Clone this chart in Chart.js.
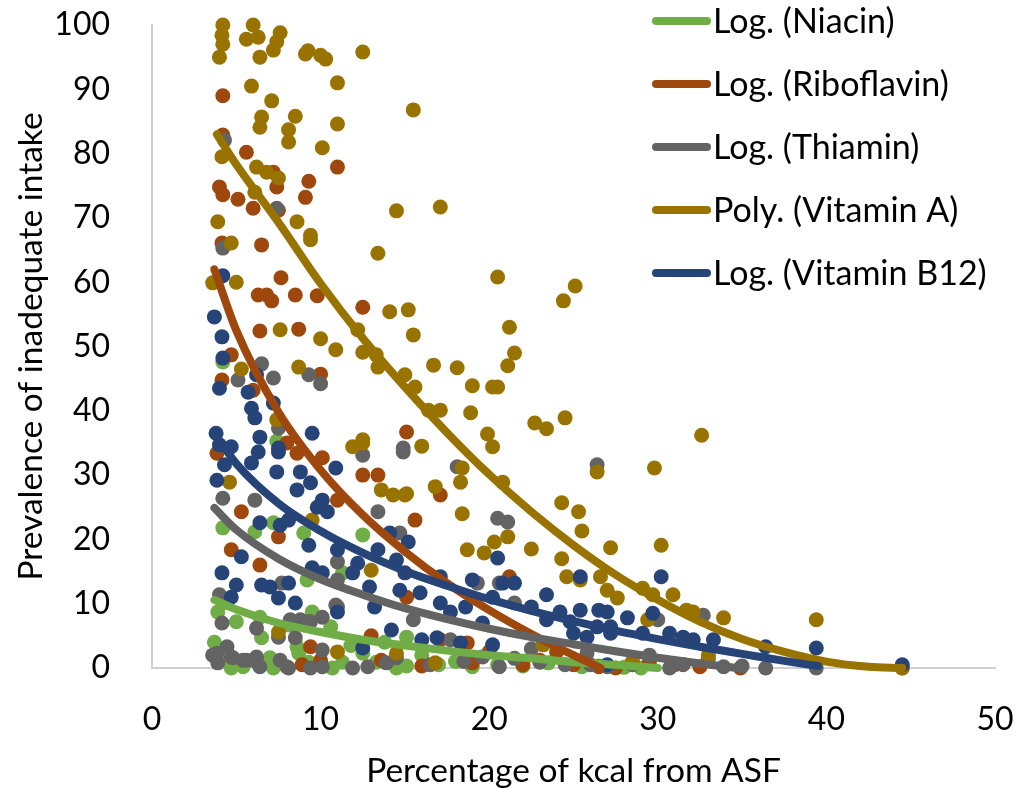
<!DOCTYPE html>
<html>
<head>
<meta charset="utf-8">
<script src="https://cdn.jsdelivr.net/npm/chart.js@4"></script>
<style>
  body { margin: 0; background: #fff; }
  #wrap { width: 1020px; height: 788px; }
</style>
</head>
<body>
<div id="wrap"><canvas id="chart"></canvas></div>
<script>
// scatter points: [x, y]
const niacinPts = [[4.2,47.6],[7.4,35.3],[4.2,21.8],[6.1,21.2],[7.2,22.6],[12.5,20.7],[9.0,21.0],[3.9,8.7],[5.0,7.2],[6.5,4.7],[8.1,6.7],[9.5,8.7],[10.6,6.4],[3.7,4.0],[4.6,1.2],[5.4,0.2],[7.0,1.6],[8.7,2.3],[9.3,0.9],[10.7,0],[11.3,0.9],[12.5,2.3],[13.3,0.9],[14.5,0],[4.2,10.1],[9.2,13.7],[11.3,14.8],[6.4,7.9],[4.7,0],[7.2,0],[8.6,3.3],[15.1,4.8],[15.1,0.3],[17.0,0.5],[19.0,0.2],[22.0,0.3],[25.5,0.2],[28.0,0.1],[16.0,2.0],[18.0,1.0],[20.5,0.5],[23.5,0.8],[26.5,0.3],[29.0,0],[13.8,4.0],[11.8,3.5]];
const riboflavinPts = [[4.2,89.0],[5.6,80.2],[4.2,82.9],[11.0,77.9],[9.3,75.7],[9.1,73.2],[4.0,74.8],[4.2,73.6],[5.1,72.9],[6.0,71.5],[7.4,74.8],[7.2,77.1],[7.5,71.2],[4.15,66.1],[6.5,65.8],[7.65,60.7],[6.3,58.0],[6.8,58.0],[7.1,57.1],[8.5,58.0],[9.8,57.9],[12.5,56.1],[6.4,52.4],[8.7,52.7],[4.7,48.7],[4.15,44.8],[10.0,45.7],[15.1,36.7],[6.0,43.2],[3.85,33.4],[8.0,35.0],[8.6,33.4],[10.1,32.7],[12.5,30.0],[13.4,30.0],[11.0,26.1],[5.3,24.3],[7.5,20.4],[4.7,18.4],[6.4,16.0],[9.4,3.3],[10.0,1.2],[13.6,1.2],[17.1,26.9],[15.6,23.0],[15.1,11.0],[21.2,14.2],[18.7,3.9],[34.9,0],[8.9,0.5],[16.0,0.3],[22.0,0.5],[26.5,0.2],[31.0,0.5],[17.1,4.4],[24.0,2.5],[19.0,0.8],[20.0,2.5],[23.0,1.2],[25.0,0.5],[27.5,0],[29.5,0.8],[32.5,0.2],[13.0,5.0]];
const thiaminPts = [[4.3,82.1],[7.4,71.5],[4.2,65.3],[6.5,47.3],[5.1,44.8],[7.2,45.1],[9.3,45.6],[10.0,44.2],[7.5,37.3],[14.9,34.2],[4.2,26.4],[6.1,26.1],[13.4,24.3],[14.9,33.6],[12.5,33.1],[11.0,16.5],[4.0,11.4],[4.15,7.0],[6.2,6.2],[8.2,7.5],[8.8,7.5],[9.3,7.2],[10.1,7.9],[10.9,9.8],[7.7,13.2],[3.85,2.3],[3.9,0.8],[4.45,3.3],[4.7,1.7],[5.6,1.2],[6.2,1.7],[7.6,1.2],[8.1,0],[9.4,0],[10.1,2.8],[11.9,0],[12.8,0.2],[13.9,0.8],[14.5,1.6],[11.0,13.7],[18.1,31.3],[26.4,31.6],[20.5,23.3],[21.1,22.7],[14.7,21.0],[19.3,13.2],[20.6,13.2],[21.5,10.1],[15.5,7.5],[17.7,4.4],[19.6,1.7],[20.6,0.2],[23.0,0.9],[25.8,2.3],[27.0,0.2],[32.7,8.2],[30.0,7.5],[36.4,0],[39.4,0],[33.9,0.2],[30.7,0],[44.5,0],[3.6,2.0],[4.8,1.6],[5.4,1.2],[6.0,1.2],[6.4,0.2],[8.0,0.2],[10.1,0.2],[8.4,7.0],[7.5,4.8],[8.5,4.7],[9.4,7.2],[11.0,9.5],[16.5,0.5],[18.5,1.0],[21.5,1.5],[22.5,3.0],[24.5,0.5],[26.0,0.5],[28.5,0.5],[29.5,2.0],[31.5,0.5],[33.0,1.5],[35.0,0.3]];
const vitaminAPts = [[4.2,100],[4.15,98.4],[4.2,97],[4.0,95],[6.0,100],[5.6,97.8],[6.3,98.1],[7.6,98.8],[7.4,97.4],[7.2,96.1],[6.4,95],[9.1,95.5],[9.25,96],[10.0,95.3],[10.3,94.7],[12.5,95.8],[5.9,90.5],[7.1,88.2],[11.0,91.0],[6.5,85.7],[6.4,84.1],[8.5,85.8],[8.1,83.7],[8.1,81.8],[11.0,84.6],[10.1,80.9],[15.5,86.8],[4.15,79.5],[6.2,77.9],[6.8,77.1],[7.5,76.2],[6.1,74.0],[3.9,69.4],[8.6,69.4],[14.5,71.1],[17.1,71.7],[9.4,67.3],[4.7,66.1],[9.4,66.6],[13.4,64.5],[3.6,59.9],[5.0,60.0],[14.1,55.4],[15.2,55.7],[7.6,52.6],[10.0,51.2],[10.9,49.5],[12.2,52.6],[12.5,49.1],[13.3,48.7],[13.4,46.8],[15.5,51.8],[15.0,45.6],[5.3,46.5],[8.7,46.8],[7.4,38.6],[12.5,35.5],[11.9,34.4],[20.5,60.8],[25.1,59.4],[24.4,57.1],[21.2,53.0],[21.5,49.0],[21.1,47.0],[16.7,47.1],[18.1,46.7],[19.0,43.9],[20.2,43.7],[20.5,43.7],[15.6,43.7],[16.4,40.1],[17.1,40.1],[18.9,39.7],[22.7,38.1],[23.4,37.2],[24.5,38.9],[19.9,36.4],[20.2,34.4],[16.0,34.5],[26.4,30.5],[18.4,31.1],[18.3,28.9],[20.8,28.9],[15.1,27.1],[16.8,28.2],[18.4,24.0],[24.3,25.7],[25.3,24.3],[25.5,21.3],[27.2,18.7],[18.7,18.4],[19.7,17.9],[20.3,19.6],[21.1,20.4],[22.5,18.5],[24.3,17.0],[24.6,14.2],[25.4,13.7],[26.6,14.2],[27.0,12.1],[32.6,36.2],[29.8,31.1],[30.2,19.1],[27.6,10.9],[29.1,12.4],[29.7,11.4],[30.9,11.4],[31.7,9.0],[32.1,8.7],[33.9,7.8],[29.4,7.5],[39.4,7.5],[4.6,28.9],[9.5,23.0],[7.5,5.6],[11.0,2.5],[12.5,35.0],[13.6,27.7],[14.3,26.9],[15.0,26.9],[13.0,15.2],[14.5,2.3],[44.5,0],[16.8,0.8],[23.2,3.6],[28.5,1.0],[33.0,2.0]];
const vitaminB12Pts = [[4.2,61.0],[3.7,54.6],[4.15,51.5],[4.2,48.2],[4.0,43.5],[5.7,42.9],[5.9,40.4],[6.1,38.9],[7.2,41.2],[6.2,45.6],[9.5,36.5],[6.4,35.9],[3.8,36.5],[4.7,34.4],[7.5,34.2],[4.0,34.7],[6.3,33.6],[7.5,33.6],[4.3,31.6],[5.9,31.9],[7.4,30.5],[8.8,30.5],[10.9,31.1],[3.85,29.2],[8.6,27.7],[9.4,28.8],[10.1,26.1],[10.4,24.3],[9.8,25.0],[6.4,22.6],[7.6,22.2],[8.1,23.0],[9.3,19.1],[5.3,17.3],[4.15,14.8],[5.0,12.9],[4.7,11.0],[6.5,12.9],[7.0,12.6],[7.5,10.9],[8.1,13.2],[8.5,10.1],[11.0,18.4],[11.9,14.8],[11.0,8.7],[9.5,15.6],[10.1,14.8],[13.4,18.4],[12.2,16.3],[14.1,21.0],[14.5,16.8],[12.9,12.6],[14.2,5.9],[12.5,3.1],[13.2,9.5],[15.2,19.6],[20.5,17.1],[19.0,13.7],[17.1,14.2],[20.8,13.2],[21.5,13.2],[23.4,11.4],[25.4,14.2],[15.9,11.7],[17.1,10.1],[17.7,8.7],[18.6,9.5],[20.2,11.0],[22.5,9.5],[24.2,8.7],[25.4,9.0],[26.5,9.0],[27.0,8.7],[23.4,7.5],[24.8,7.2],[26.4,6.4],[27.2,5.4],[25.0,5.4],[25.8,4.8],[16.0,4.4],[16.9,4.7],[18.3,3.9],[20.2,3.6],[19.6,7.0],[27.0,0.5],[15.0,14.8],[14.7,12.1],[30.2,14.2],[39.4,3.1],[28.2,7.8],[29.7,8.5],[29.1,5.4],[30.7,5.4],[31.5,4.8],[32.1,4.4],[33.3,4.4],[36.4,3.3],[27.2,6.4],[44.5,0.5]];

// trendlines
const niacinTrendX = [3.7,5,7.5,10,12.5,15,17.5,20,22.5,25,27.5,30];
const niacinTrendY = [10.6,9.1,7.0,5.6,4.4,3.5,2.7,2.0,1.5,0.9,0.5,0];
const riboflavinTrendX = [3.7,5,7.5,10,12.5,15,17.5,20,22.5,25,26.6];
const riboflavinTrendY = [62,52.5,39.8,30.8,23.8,18.1,13.2,9.0,5.3,2.0,0];
const thiaminTrendX = [3.7,5,7.5,10,12.5,15,17.5,20,22.5,25,27.5,30,32.5,34.7];
const thiaminTrendY = [24.9,21.5,17.0,13.8,11.4,9.3,7.6,6.1,4.8,3.7,2.6,1.6,0.7,0];
const vitaminATrendX = [3.85,5,7.5,10,12.5,15,17.5,20,22.5,25,27.5,30,32.5,35,37.5,40,42.5,44.5];
const vitaminATrendY = [83,78.3,69.3,59.8,51.3,43.7,36.6,30.1,24.3,19.1,14.5,10.6,7.2,4.5,2.5,1.0,0.2,0];
const vitaminB12TrendX = [3.7,5,7.5,10,12.5,15,17.5,20,22.5,25,27.5,30,32.5,35,37.5,39.5];
const vitaminB12TrendY = [36.5,31.8,25.6,21.3,17.9,15.1,12.8,10.7,8.9,7.3,5.8,4.5,3.3,2.2,1.1,0.3];

const legendLabels = ['Log. (Niacin)', 'Log. (Riboflavin)', 'Log. (Thiamin)', 'Poly. (Vitamin A)', 'Log. (Vitamin B12)'];
const colors = ['#70AD47', '#9E480E', '#636363', '#997300', '#264478'];

const FONT = 'Lato';

function toXY(pts) { return pts.map(p => ({ x: p[0], y: p[1] })); }
function zipXY(xs, ys) { return xs.map((x, i) => ({ x: x, y: ys[i] })); }

const pointSets = [niacinPts, riboflavinPts, thiaminPts, vitaminAPts, vitaminB12Pts];
const trendSets = [
  zipXY(niacinTrendX, niacinTrendY),
  zipXY(riboflavinTrendX, riboflavinTrendY),
  zipXY(thiaminTrendX, thiaminTrendY),
  zipXY(vitaminATrendX, vitaminATrendY),
  zipXY(vitaminB12TrendX, vitaminB12TrendY)
];

const datasets = [];
// points: green at the bottom, blue on top (higher order is drawn first)
pointSets.forEach((pts, i) => {
  datasets.push({
    data: toXY(pts),
    backgroundColor: colors[i],
    borderWidth: 0,
    pointRadius: 7.5,
    showLine: false,
    clip: false,
    order: 20 - i
  });
});
// trendlines over all the points
trendSets.forEach((pts, i) => {
  datasets.push({
    data: pts,
    borderColor: colors[i],
    borderWidth: 8,
    borderCapStyle: 'round',
    borderJoinStyle: 'round',
    pointRadius: 0,
    showLine: true,
    clip: false,
    cubicInterpolationMode: 'monotone',
    order: 10 - i
  });
});

// legend drawn by hand so it can sit over the top right of the plot
const trendLegend = {
  id: 'trendLegend',
  afterDraw(chart) {
    const ctx = chart.ctx;
    ctx.save();
    ctx.font = '34px ' + FONT;
    ctx.fillStyle = '#000';
    ctx.textBaseline = 'alphabetic';
    legendLabels.forEach((label, i) => {
      const y = 21 + i * 63;
      ctx.strokeStyle = colors[i];
      ctx.lineWidth = 8;
      ctx.lineCap = 'round';
      ctx.beginPath();
      ctx.moveTo(656, y);
      ctx.lineTo(707, y);
      ctx.stroke();
      ctx.fillText(label, 713, y + 12);
    });
    ctx.restore();
  }
};

new Chart(document.getElementById('chart'), {
  type: 'scatter',
  data: { datasets: datasets },
  plugins: [trendLegend],
  options: {
    responsive: true,
    maintainAspectRatio: false,
    animation: false,
    layout: { padding: 0 },
    plugins: { legend: { display: false }, tooltip: { enabled: false } },
    scales: {
      x: {
        type: 'linear',
        min: 0, max: 50,
        grid: { display: false },
        border: { display: true, color: '#D0D0D0', width: 2 },
        ticks: { stepSize: 10, color: '#000', padding: 24, font: { family: FONT, size: 32 } },
        title: { display: true, text: 'Percentage of kcal from ASF', color: '#000', font: { family: FONT, size: 33.5, lineHeight: 1 }, padding: 0 },
        afterFit(scale) { scale.height = 120; scale.paddingLeft = 0; scale.paddingRight = 25; }
      },
      y: {
        type: 'linear',
        min: 0, max: 100,
        grid: { display: false },
        border: { display: true, color: '#D0D0D0', width: 2 },
        ticks: { stepSize: 10, color: '#000', padding: 34, font: { family: FONT, size: 32 } },
        title: { display: true, text: 'Prevalence of inadequate intake', color: '#000', font: { family: FONT, size: 33.5, lineHeight: 1 }, padding: { top: 14, bottom: 0 } },
        afterFit(scale) { scale.width = 152; scale.paddingTop = 25; scale.paddingBottom = 0; }
      }
    }
  }
});
</script>
</body>
</html>
